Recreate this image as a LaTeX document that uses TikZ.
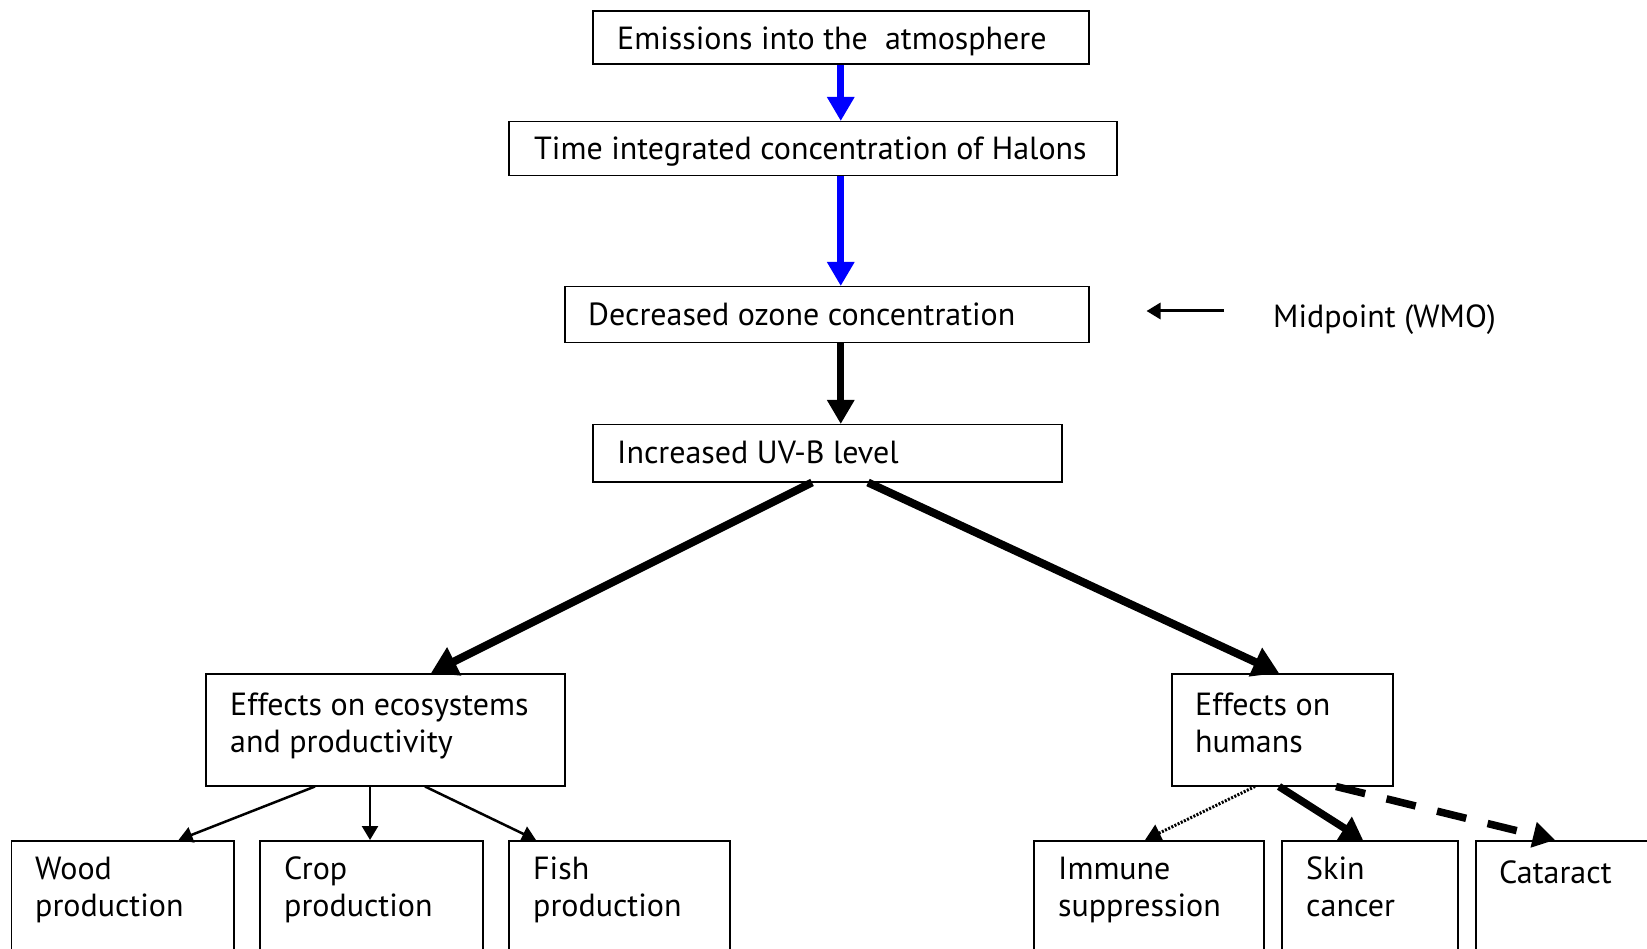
\documentclass[tikz,border=0pt]{standalone}
\usepackage{fontspec}
\setmainfont{PT Sans}
\usetikzlibrary{arrows.meta,calc}

\tikzset{
  box/.style={draw=black, line width=1.5pt, rectangle, inner sep=0pt, anchor=north west},
  txt/.style={inner sep=0pt, align=left, anchor=base west, font=\fontsize{32}{37}\selectfont, text=black},
  bluearrow/.style={draw=blue, line width=7pt, -{Triangle[length=24pt,width=26pt]}},
  heavyarrow/.style={draw=black, line width=7pt, -{Triangle[length=24pt,width=26pt]}},
  diagarrow/.style={draw=black, line width=8pt, -{Triangle[length=26pt,width=30pt]}},
  thinarrow/.style={draw=black, line width=2.5pt, -{Triangle[length=14pt,width=16pt]}},
  skinarrow/.style={draw=black, line width=7.5pt, -{Triangle[length=22pt,width=26pt]}},
  dasharrow/.style={draw=black, line width=7.5pt, dash pattern=on 30pt off 22pt, -{Triangle[length=22pt,width=25pt]}},
  dotarrow/.style={draw=black, line width=3pt, dash pattern=on 2pt off 1.5pt, -{Triangle[length=16pt,width=18pt]}},
}

\begin{document}
\begin{tikzpicture}[x=1pt, y=-1pt]
\useasboundingbox (0,0) rectangle (1647,949);
\clip (0,0) rectangle (1647,949);

% chain of boxes
\node[box, minimum width=496pt, minimum height=53pt] (b1) at (592,10.5) {};
\node[box, minimum width=608pt, minimum height=54pt] (b2) at (508,121) {};
\node[box, minimum width=524pt, minimum height=56pt] (b3) at (564,286) {};
\node[box, minimum width=469pt, minimum height=57pt] (b4) at (592,424) {};

% second level
\node[box, minimum width=359pt, minimum height=112pt] (eco) at (205,673) {};
\node[box, minimum width=221pt, minimum height=112pt] (hum) at (1171,673) {};

% bottom level
\node[box, minimum width=222.5pt, minimum height=140pt] (wood) at (10.5,840) {};
\node[box, minimum width=223pt, minimum height=140pt] (crop) at (259,840) {};
\node[box, minimum width=221pt, minimum height=140pt] (fish) at (508,840) {};
\node[box, minimum width=230pt, minimum height=140pt] (imm) at (1033,840) {};
\node[box, minimum width=176pt, minimum height=140pt] (skin) at (1281,840) {};
\node[box, minimum width=230pt, minimum height=140pt] (cat) at (1475,840) {};

% labels (base = baseline of the last line)
\node[txt] (t1) at (617,50) {Emissions into the\ \ atmosphere};
\node[txt] (t2) at (534,160) {Time integrated concentration of Halons};
\node[txt] (t3) at (588,326) {Decreased ozone concentration};
\node[txt] (t4) at (617,464) {Increased UV-B level};
\node[txt] (mid) at (1273,328) {Midpoint (WMO)};
\node[txt] (teco) at (230,752) {Effects on ecosystems\\and productivity};
\node[txt] (thum) at (1195,752) {Effects on\\humans};
\node[txt] (twood) at (35,916) {Wood\\production};
\node[txt] (tcrop) at (284,916) {Crop\\production};
\node[txt] (tfish) at (533,916) {Fish\\production};
\node[txt] (timm) at (1058,916) {Immune\\suppression};
\node[txt] (tskin) at (1306,916) {Skin\\cancer};
\node[txt] (tcat) at (1499,883) {Cataract};

% connectors
\draw[bluearrow] (b1.south) -- (b1.south |- b2.north);
\draw[bluearrow] (b1.south |- b2.south) -- (b1.south |- b3.north);
\draw[heavyarrow] (b1.south |- b3.south) -- (b1.south |- b4.north);

\coordinate (mtail) at ($(mid.base west)+(-49,-17)$);
\coordinate (mhead) at ($(b3.east)+(57,0)$);
\draw[thinarrow, line width=3pt] (mtail) -- (mhead |- mtail);

\draw[diagarrow] ($(b4.south west)+(220,0)$) -- ($(eco.north west)+(226,0)$);
\draw[diagarrow] ($(b4.south west)+(276,0)$) -- ($(hum.north west)+(108,0)$);

\draw[thinarrow] ($(eco.south west)+(110,0)$) -- ($(wood.north west)+(168,0)$);
\draw[thinarrow] ($(eco.south west)+(165,0)$) -- ($(crop.north west)+(111,0)$);
\draw[thinarrow] ($(eco.south west)+(220,0)$) -- ($(fish.north west)+(28,0)$);

\draw[dotarrow] ($(hum.south west)+(84,0)$) -- ($(imm.north west)+(112,0)$);
\draw[skinarrow] ($(hum.south west)+(108,0)$) -- ($(skin.north west)+(82,0)$);
\draw[dasharrow] ($(hum.south west)+(165,0)$) -- ($(cat.north west)+(80,0)$);
\end{tikzpicture}
\end{document}
